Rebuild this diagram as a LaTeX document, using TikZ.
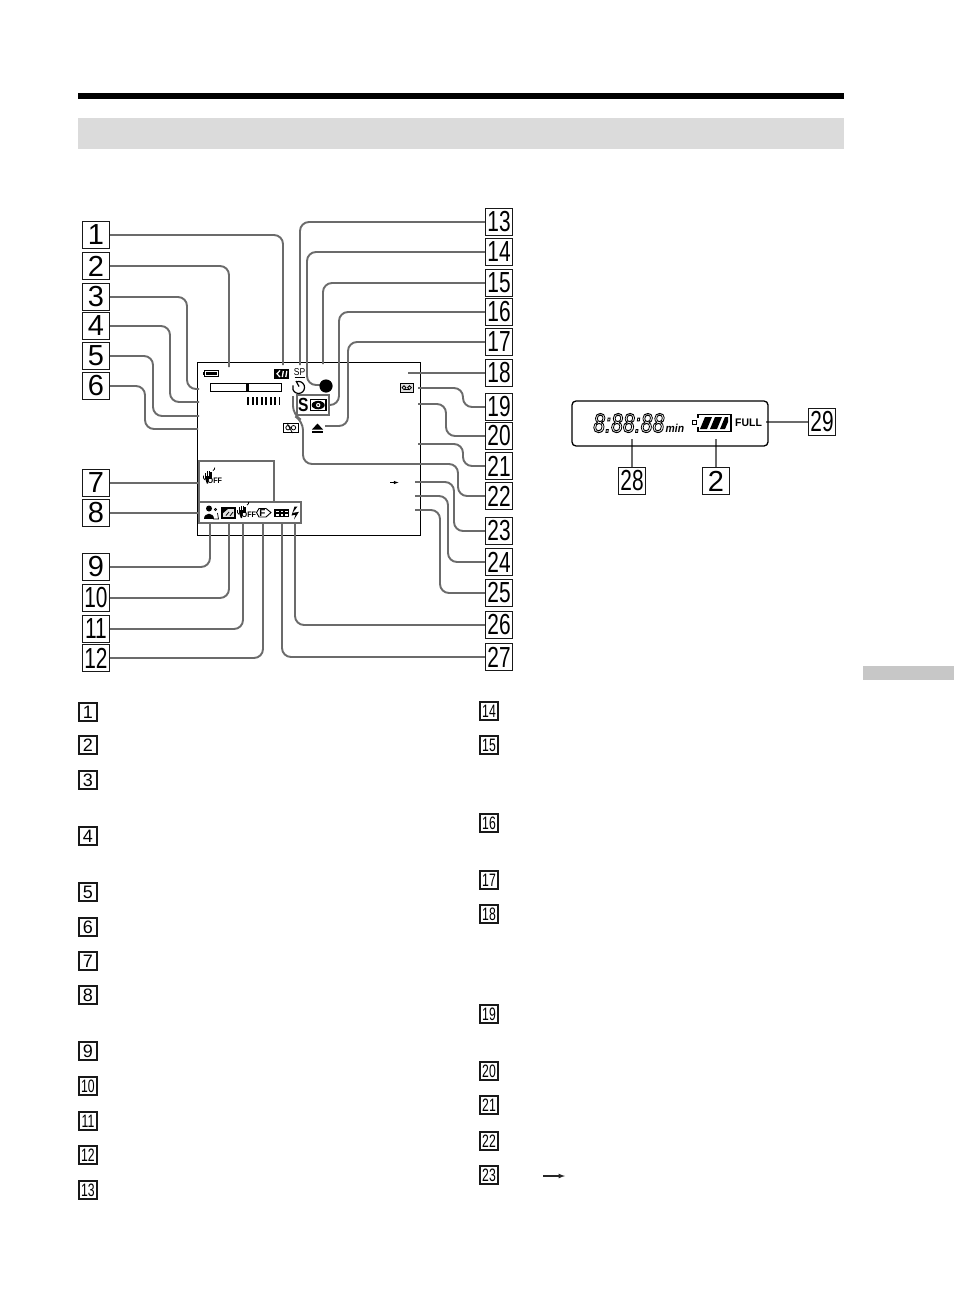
\documentclass[tikz,border=0pt]{standalone}
\usepackage{fontspec}
\usepackage{graphicx}
\setmainfont{Liberation Sans}
\tikzset{
  bigbox/.style={draw=black!90,line width=1.4pt,fill=white,minimum width=27pt,minimum height=27pt,inner sep=0pt,font=\fontsize{29}{29}\selectfont},
  smallbox/.style={draw=black!90,line width=1.1pt,minimum width=18pt,minimum height=18pt,inner sep=0pt,font=\fontsize{18}{18}\selectfont},
  conn/.style={draw=black!58,line width=1.9pt,rounded corners=9pt},
  frame/.style={draw=black!58,line width=1.9pt},
  ink/.style={fill=black,draw=none},
  icontext/.style={inner sep=0pt,text=black}
}
\newcommand{\nn}[1]{\ifnum#1>9 \scalebox{.72}[1]{#1}\else #1\fi}
\newcommand{\sn}[1]{\ifnum#1>9 \scalebox{.68}[1]{#1}\else #1\fi}
\newcommand{\steadyicon}[3]{%
  \begin{scope}[shift={(#1,#2)}]
    \fill (-4,-4.5) rectangle (-2.7,-1);
    \fill (-2.2,-6) rectangle (-.9,-1);
    \fill (-.4,-6) rectangle (.9,-1);
    \fill (1.4,-5) rectangle (2.7,-1);
    \fill (-4,-1.5) rectangle (2.7,1.5);
    \fill (-4,1) -- (-1,1) -- (-1,6.5) -- (-2.2,6.5) -- cycle;
    \draw[line width=.8pt] (-5.6,-1.5) arc[start angle=200,end angle=120,radius=3.6];
    \draw[line width=.8pt] (4,-6.5) arc[start angle=70,end angle=-10,radius=2.6];
    \node[icontext,anchor=west,font=\bfseries\fontsize{8}{8}\selectfont] (#3) at (-1.5,3.4) {\scalebox{.9}[1]{OFF}};
  \end{scope}}
\begin{document}
\begin{tikzpicture}[x=1pt,y=-1pt]
\useasboundingbox (0,0) rectangle (954,1308);
% page furniture
\fill[black] (78,93) rectangle (844,99);
\fill[black!14] (78,118) rectangle (844,149);
\fill[black!22] (863,666) rectangle (954,680);

% screen
\draw[black,line width=.9pt] (197,362) rectangle (420,535);

% grey frames
\draw[frame] (199,502) -- (199,461) -- (274,461) -- (274,502);
\draw[frame] (199,502) rectangle (301,523);
\draw[frame] (297,395) rectangle (329,415);

% big label boxes, left
\foreach \n/\y in {1/235,2/266,3/297,4/326,5/356,6/386,7/483,8/513,9/567,10/598,11/629,12/658}
  \node[bigbox] (n\n) at (96,\y) {\nn{\n}};
% big label boxes, right
\foreach \n/\y in {13/222,14/252,15/283,16/312,17/342,18/373,19/407,20/436,21/466,22/496,23/531,24/562,25/593,26/625,27/657}
  \node[bigbox] (n\n) at (499,\y) {\nn{\n}};
% lcd labels
\node[bigbox] (n28) at (632,481) {\nn{28}};
\node[bigbox] (n2b) at (716,481) {2};
\node[bigbox] (n29) at (822,422) {\nn{29}};

% connector ends and bends
\coordinate (e1) at (283,365);
\coordinate (e2) at (229,367);
\coordinate (w3) at (187,389); \coordinate (e3) at (199,389);
\coordinate (w4) at (170,402); \coordinate (e4) at (199,402);
\coordinate (w5) at (153,416); \coordinate (e5) at (199,416);
\coordinate (w6) at (145,429); \coordinate (e6) at (198,429);
\coordinate (e7) at (198,483);
\coordinate (e8) at (199,513);
\coordinate (e9) at (210,524);
\coordinate (e10) at (229,524);
\coordinate (e11) at (243,524);
\coordinate (e12) at (263,524);
\coordinate (e13) at (300,365);
\coordinate (w14) at (307,385); \coordinate (e14) at (320,385);
\coordinate (e15) at (323,364);
\coordinate (w16) at (339,405); \coordinate (e16) at (330,405);
\coordinate (w17) at (348,426); \coordinate (e17) at (325,426);
\coordinate (e18) at (408,373);
\coordinate (a19) at (463,388); \coordinate (e19) at (418,388);
\coordinate (a20) at (446,404); \coordinate (e20) at (418,404);
\coordinate (a21) at (463,444); \coordinate (e21) at (418,444);
\coordinate (a22) at (458,464); \coordinate (b22) at (303,464);
\coordinate (c22) at (303,421); \coordinate (d22) at (293,415); \coordinate (e22) at (293,396);
\coordinate (a23) at (454,482); \coordinate (e23) at (415,482);
\coordinate (a24) at (448,496); \coordinate (e24) at (415,496);
\coordinate (a25) at (440,510); \coordinate (e25) at (415,510);
\coordinate (e26) at (295,524);
\coordinate (e27) at (282,524);
\coordinate (e28) at (632,439);
\coordinate (e2b) at (716,439);
\coordinate (e29) at (766,422);

% connectors
\draw[conn] (n1.east) -| (e1);
\draw[conn] (n2.east) -| (e2);
\draw[conn] (n3.east) -| (w3) -- (e3);
\draw[conn] (n4.east) -| (w4) -- (e4);
\draw[conn] (n5.east) -| (w5) -- (e5);
\draw[conn] (n6.east) -| (w6) -- (e6);
\draw[conn] (n7.east) -- (e7);
\draw[conn] (n8.east) -- (e8);
\draw[conn] (n9.east) -| (e9);
\draw[conn] (n10.east) -| (e10);
\draw[conn] (n11.east) -| (e11);
\draw[conn] (n12.east) -| (e12);
\draw[conn] (n13.west) -| (e13);
\draw[conn] (n14.west) -| (w14) -- (e14);
\draw[conn] (n15.west) -| (e15);
\draw[conn] (n16.west) -| (w16) -- (e16);
\draw[conn] (n17.west) -| (w17) -- (e17);
\draw[conn] (n18.west) -- (e18);
\draw[conn] (n19.west) -| (a19) -- (e19);
\draw[conn] (n20.west) -| (a20) -- (e20);
\draw[conn] (n21.west) -| (a21) -- (e21);
\draw[conn] (n22.west) -| (a22) -- (b22) -- (c22) -- (d22) -- (e22);
\draw[conn] (n23.west) -| (a23) -- (e23);
\draw[conn] (n24.west) -| (a24) -- (e24);
\draw[conn] (n25.west) -| (a25) -- (e25);
\draw[conn] (n26.west) -| (e26);
\draw[conn] (n27.west) -| (e27);
\draw[conn] (n28.north) -- (e28);
\draw[conn] (n2b.north) -- (e2b);
\draw[conn] (n29.west) -- (e29);

% screen icons
\draw[black,line width=1pt] (204,370.5) rectangle (218.5,376.5);
\fill (205.5,372) rectangle (217,375);
\fill (202.8,372.3) rectangle (204,374.7);
\draw[black,line width=1pt] (210.7,383.5) rectangle (281.7,391);
\fill (246,384) rectangle (249,390.5);
\foreach \x in {247,251.5,256,260.5,265,269.5,274}
  \fill (\x,397) rectangle (\x+2,404.5);
\fill (278.8,397) rectangle (279.8,404.5);
% hi icon
\fill (274,369) rectangle (289,378.5);
\draw[white,line width=1.2pt] (280,370.5) -- (277,373.8) -- (280,377);
\draw[white,line width=1.3pt] (283.3,371) -- (282.3,377) (286.8,371) -- (285.8,377);
% SP
\node[icontext,font=\fontsize{10}{10}\selectfont] (sp) at (299.5,372) {\scalebox{.85}[1]{SP}};
\draw[line width=.8pt] (294.5,377.8) -- (304.5,377.8);
% timer
\draw[line width=1.2pt] (296.5,381.8) arc[start angle=-110,end angle=200,radius=6];
\draw[line width=1.2pt] (296,381) -- (299,386.5);
% rec dot
\fill (326,386) circle (6.6);
% S + eye
\node[icontext,font=\bfseries\fontsize{19}{19}\selectfont] (s) at (303.4,405) {\scalebox{.82}[1]{S}};
\draw[black,line width=1.3pt] (310.5,399.5) rectangle (326,410.8);
\fill (318.2,405.1) ellipse (6.5 and 4.2);
\fill[white] (318.2,405.1) circle (2.2);
\fill (318.2,405.1) circle (1.1);
% eject
\fill (317.5,423.5) -- (323,429.5) -- (312,429.5) -- cycle;
\fill (312,431) rectangle (323,432.5);
% tape crossed
\draw[black,line width=1pt] (283.5,423.5) rectangle (298,432);
\draw[line width=.8pt] (288,427.7) circle (2.2) (293.5,427.7) circle (2.2);
\draw[line width=.8pt] (287,423) -- (292.5,433);
% tape
\draw[black,line width=1pt,fill=black!12] (400.5,383.5) rectangle (413,392);
\draw[line width=.8pt] (404,387.7) circle (1.9) (409.5,387.7) circle (1.9);
\draw[line width=.8pt] (404,389.6) -- (409.5,389.6);
% arrow
\draw[-latex,line width=.6pt] (390,482.5) -- (398.5,482.5);
% steady shot, screen
\steadyicon{209}{477}{off1}
% bottom row
\fill (209,508.5) circle (3);
\fill (204,519) .. controls (204,511.5) and (214,511.5) .. (214,519) -- cycle;
\draw[line width=.7pt] (215.5,509.5) circle (1.2);
\draw[line width=.7pt] (213,519) -- (218.5,519) -- (217.5,513);
\draw[black,line width=1.1pt,fill=black!12] (222,508) rectangle (235,518);
\draw[line width=.8pt] (226,515.5) -- (229,512) (230,516) -- (233,512);
\fill (222,508) -- (229,508) -- (222,514) -- cycle;
\steadyicon{243}{511.5}{off2}
\draw[line width=.9pt] (256.5,512.5) -- (259,508.5) -- (266,508.5) -- (271,512.5) -- (266,517) -- (259,517) -- cycle;
\node[icontext,font=\bfseries\fontsize{10}{10}\selectfont] (ftext) at (262.5,512.7) {F};
\fill (274,509) rectangle (289,517);
\foreach \x in {276,280.5,285} { \fill[white] (\x,510.5) rectangle (\x+2.6,512.2); \fill[white] (\x,514) rectangle (\x+2.6,515.7); }
\fill (297.5,506.5) -- (292.5,513) -- (299,511.8) -- (294,519.5) -- (295.5,514.8) -- (291.5,515.5) -- (294.5,506.5) -- cycle;

% lcd
\draw[black,line width=1.3pt,rounded corners=4pt] (572,401) rectangle (768,446);
\node[icontext,anchor=west,font=\itshape\fontsize{27}{27}\selectfont] (clock) at (593,423) {\special{pdf:code 1 Tr 1 w}\scalebox{.79}[1]{8:88:88}\special{pdf:code 0 Tr}};
\node[icontext,anchor=west,font=\bfseries\itshape\fontsize{11.5}{11.5}\selectfont] (mintext) at (665.5,428) {\scalebox{.9}[1]{min}};
\draw[line width=.8pt] (692,420.5) rectangle (696,424.5);
\draw[black,line width=1.2pt] (698,418) -- (698,414.5) -- (731,414.5) -- (731,431.5) -- (698,431.5) -- (698,427);
\fill (700,429) -- (705,417) -- (712,417) -- (707,429) -- cycle;
\fill (710,429) -- (715,417) -- (722,417) -- (717,429) -- cycle;
\fill (720,429) -- (725,417) -- (728,417) -- (728,422) -- (725,429) -- cycle;
\node[icontext,anchor=west,font=\bfseries\fontsize{11}{11}\selectfont] (fulltext) at (735,422.5) {\scalebox{.95}[1]{FULL}};

% small key boxes
\foreach \n/\y in {1/712,2/745,3/780,4/836,5/892,6/927,7/961,8/995,9/1051,10/1086,11/1121,12/1155,13/1190}
  \node[smallbox] (k\n) at (88,\y) {\sn{\n}};
\foreach \n/\y in {14/711,15/745,16/823,17/880,18/914,19/1014,20/1071,21/1105,22/1141,23/1175}
  \node[smallbox] (k\n) at (489,\y) {\sn{\n}};
\draw[-latex,black!85,line width=1.2pt] (543,1176) -- (565,1176);
\end{tikzpicture}
\end{document}
